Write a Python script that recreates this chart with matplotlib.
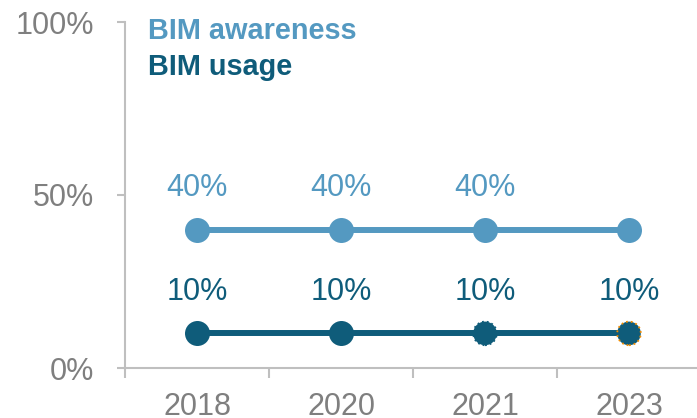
import matplotlib
matplotlib.use("Agg")
import matplotlib.pyplot as plt

plt.rcParams["font.family"] = ["Liberation Sans", "DejaVu Sans"]

years = ["2018", "2020", "2021", "2023"]
awareness = [40, 40, 40, 40]
usage = [10, 10, 10, 10]

c_aware = "#5499C1"
c_usage = "#0F5C7A"
c_axis = "#BFBFBF"
c_text = "#7F7F7F"

fig = plt.figure(figsize=(6.97, 4.18), dpi=100)
ax = fig.add_axes([125 / 697, 50 / 418, 576 / 697, 346 / 418])

x = list(range(len(years)))

ax.plot(x, awareness, color=c_aware, lw=4.3, marker="o", ms=18, mew=0, zorder=3)
ax.plot(x, usage, color=c_usage, lw=4.3, zorder=3)
ax.scatter(x[:2], usage[:2], s=18 ** 2, color=c_usage, lw=0, zorder=4)
# last two usage points carry a dotted outline
ax.scatter([x[2]], [usage[2]], s=17 ** 2, color=c_usage, edgecolor=c_usage,
           lw=1.3, linestyle=":", zorder=4)
ax.scatter([x[3]], [usage[3]], s=17 ** 2, color=c_usage, edgecolor="#F28C00",
           lw=1.3, linestyle=":", zorder=4)

for xi, v in zip(x, awareness[:3]):
    ax.annotate(f"{v}%", (xi, v), xytext=(0, 30), textcoords="offset points",
                ha="center", va="center", fontsize=22, color=c_aware)
for xi, v in zip(x, usage):
    ax.annotate(f"{v}%", (xi, v), xytext=(0, 30), textcoords="offset points",
                ha="center", va="center", fontsize=22, color=c_usage)

ax.set_xlim(-0.5, len(years) - 0.5)
ax.set_ylim(0, 100)

for side in ["top", "right"]:
    ax.spines[side].set_visible(False)
for side in ["left", "bottom"]:
    ax.spines[side].set_color(c_axis)
    ax.spines[side].set_linewidth(1.5)

ax.set_yticks([0, 50, 100])
ax.set_yticklabels(["0%", "50%", "100%"])
ax.tick_params(axis="y", direction="out", length=6, width=1.5, color=c_axis,
               labelcolor=c_text, labelsize=22, pad=16)

ax.set_xticks([i - 0.5 for i in x])
ax.set_xticklabels([])
ax.tick_params(axis="x", which="major", direction="out", length=7, width=1.5,
               color=c_axis)
ax.set_xticks(x, minor=True)
ax.set_xticklabels(years, minor=True)
ax.tick_params(axis="x", which="minor", length=0, labelcolor=c_text,
               labelsize=22, pad=17)

fig.text(148 / 697, 1 - 31 / 418, "BIM awareness", color=c_aware, fontsize=20.8,
         fontweight="bold", va="center", ha="left")
fig.text(148 / 697, 1 - 67 / 418, "BIM usage", color=c_usage, fontsize=20.8,
         fontweight="bold", va="center", ha="left")

fig.savefig("out.png", dpi=100)
